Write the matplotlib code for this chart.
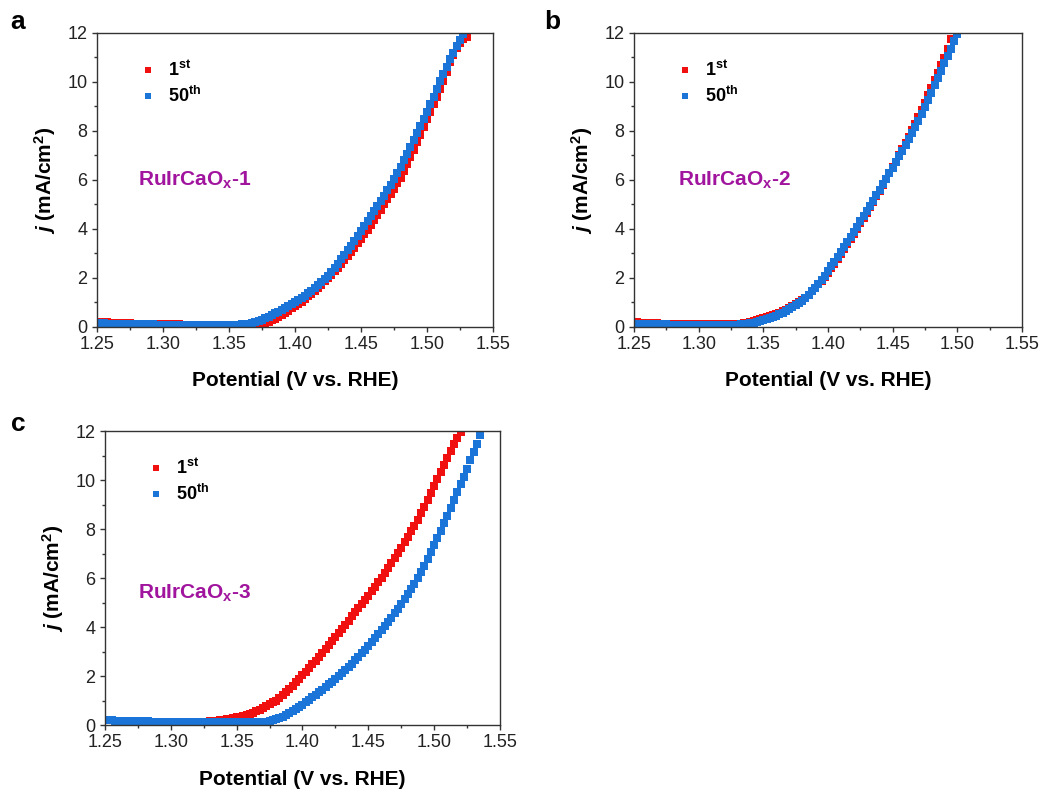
import numpy as np
import matplotlib
matplotlib.use("Agg")
import matplotlib.pyplot as plt
from matplotlib.ticker import MultipleLocator, FormatStrFormatter

plt.rcParams['font.family'] = ['Liberation Sans', 'DejaVu Sans']
plt.rcParams['mathtext.fontset'] = 'custom'
plt.rcParams['mathtext.rm'] = 'Liberation Sans'
plt.rcParams['mathtext.it'] = 'Liberation Sans:italic'
plt.rcParams['mathtext.bf'] = 'Liberation Sans:bold'
plt.rcParams['mathtext.bfit'] = 'Liberation Sans:italic:bold'

# LSV sampling (V vs. RHE)
V_START = 1.25
V_STEP = 0.0025

# current density (mA/cm2), one value per potential step
j_a_1st = [
    0.22, 0.21, 0.20, 0.19, 0.18, 0.17, 0.17, 0.16, 0.16, 0.15,
    0.15, 0.14, 0.14, 0.14, 0.13, 0.13, 0.13, 0.12, 0.12, 0.12,
    0.12, 0.11, 0.11, 0.11, 0.11, 0.11, 0.10, 0.10, 0.10, 0.10,
    0.10, 0.10, 0.10, 0.10, 0.10, 0.10,
    0.10, 0.10, 0.09, 0.09, 0.08, 0.08, 0.07, 0.07, 0.06, 0.06,
    0.05, 0.05, 0.05, 0.06, 0.08, 0.13, 0.20, 0.27, 0.34, 0.42,
    0.50, 0.58, 0.67, 0.76, 0.85, 0.94, 1.03, 1.13, 1.25, 1.36,
    1.48, 1.60, 1.73, 1.86, 1.99, 2.13, 2.27, 2.42, 2.57, 2.73,
    2.89, 3.06, 3.23, 3.41, 3.59, 3.78, 3.97, 4.17, 4.37, 4.58,
    4.79, 5.00, 5.21, 5.43, 5.65, 5.87, 6.10, 6.38, 6.66, 6.95,
    7.24, 7.54, 7.85, 8.16, 8.47, 8.78, 9.09, 9.40, 9.71, 10.02,
    10.40, 10.80, 11.10, 11.40, 11.60, 11.75, 11.85]
j_a_50th = [
    0.16, 0.15, 0.15, 0.14, 0.14, 0.13, 0.13, 0.13, 0.12, 0.12,
    0.12, 0.12, 0.11, 0.11, 0.11, 0.11, 0.11, 0.11, 0.10, 0.10,
    0.10, 0.10, 0.10, 0.10, 0.10, 0.10, 0.10, 0.10, 0.10, 0.10,
    0.10, 0.10, 0.10, 0.10, 0.10, 0.10,
    0.10, 0.10, 0.10, 0.10, 0.10, 0.10, 0.10, 0.10, 0.11, 0.12,
    0.14, 0.17, 0.20, 0.25, 0.30, 0.36, 0.42, 0.49, 0.56, 0.63,
    0.70, 0.78, 0.85, 0.93, 1.00, 1.09, 1.18, 1.28, 1.38, 1.48,
    1.59, 1.70, 1.82, 1.96, 2.10, 2.26, 2.42, 2.59, 2.77, 2.95,
    3.13, 3.32, 3.51, 3.71, 3.91, 4.11, 4.31, 4.51, 4.72, 4.93,
    5.14, 5.36, 5.58, 5.80, 6.03, 6.28, 6.54, 6.80, 7.07, 7.34,
    7.62, 7.90, 8.19, 8.49, 8.79, 9.09, 9.40, 9.71, 10.02, 10.32,
    10.62, 10.92, 11.20, 11.47, 11.72, 11.95]

j_b_1st = [
    0.20, 0.19, 0.18, 0.17, 0.16, 0.16, 0.15, 0.15, 0.14, 0.14,
    0.14, 0.13, 0.13, 0.13, 0.13, 0.12, 0.12, 0.12, 0.12, 0.12,
    0.12, 0.12, 0.12, 0.12, 0.12, 0.12, 0.12, 0.12, 0.12, 0.12,
    0.12, 0.12,
    0.12, 0.14, 0.16, 0.18, 0.21, 0.24, 0.27, 0.31, 0.35, 0.39,
    0.43, 0.48, 0.53, 0.58, 0.64, 0.70, 0.77, 0.84, 0.92, 1.00,
    1.09, 1.20, 1.32, 1.45, 1.59, 1.74, 1.89, 2.05, 2.22, 2.40,
    2.59, 2.78, 2.98, 3.18, 3.38, 3.59, 3.80, 4.01, 4.23, 4.45,
    4.67, 4.89, 5.11, 5.34, 5.57, 5.80, 6.03, 6.27, 6.51, 6.75,
    7.00, 7.25, 7.50, 7.76, 8.02, 8.29, 8.57, 8.86, 9.15, 9.45,
    9.76, 10.07, 10.38, 10.70, 10.98, 11.35, 11.75]
j_b_50th = [
    0.14, 0.14, 0.13, 0.13, 0.12, 0.12, 0.12, 0.11, 0.11, 0.11,
    0.11, 0.10, 0.10, 0.10, 0.10, 0.10, 0.10, 0.10, 0.10, 0.10,
    0.10, 0.10, 0.10, 0.10, 0.10, 0.10, 0.10, 0.10, 0.10, 0.10,
    0.10, 0.10,
    0.10, 0.11, 0.12, 0.13, 0.15, 0.17, 0.20, 0.24, 0.28, 0.32,
    0.36, 0.41, 0.46, 0.51, 0.58, 0.65, 0.72, 0.80, 0.88, 0.96,
    1.05, 1.18, 1.32, 1.46, 1.61, 1.76, 1.92, 2.10, 2.29, 2.48,
    2.67, 2.87, 3.07, 3.27, 3.47, 3.68, 3.89, 4.10, 4.31, 4.52,
    4.73, 4.94, 5.16, 5.38, 5.60, 5.82, 6.04, 6.27, 6.50, 6.73,
    6.96, 7.19, 7.42, 7.66, 7.90, 8.15, 8.42, 8.70, 8.98, 9.27,
    9.56, 9.86, 10.16, 10.46, 10.76, 11.06, 11.36, 11.66, 11.95]

j_c_1st = [
    0.20, 0.19, 0.19, 0.18, 0.18, 0.17, 0.17, 0.16, 0.16, 0.15,
    0.15, 0.15, 0.14, 0.14, 0.14, 0.14, 0.13, 0.13, 0.13, 0.13,
    0.13, 0.12, 0.12, 0.12, 0.12, 0.12, 0.12, 0.12,
    0.12, 0.12, 0.13, 0.14, 0.15, 0.16, 0.18, 0.20, 0.21, 0.23,
    0.25, 0.28, 0.31, 0.34, 0.37, 0.41, 0.45, 0.50, 0.56, 0.63,
    0.70, 0.77, 0.84, 0.92, 1.00, 1.11, 1.23, 1.35, 1.48, 1.61,
    1.75, 1.89, 2.03, 2.18, 2.33, 2.48, 2.63, 2.78, 2.94, 3.10,
    3.26, 3.42, 3.58, 3.75, 3.92, 4.09, 4.26, 4.43, 4.60, 4.77,
    4.94, 5.11, 5.28, 5.46, 5.64, 5.82, 6.00, 6.20, 6.40, 6.61,
    6.82, 7.03, 7.24, 7.46, 7.68, 7.90, 8.13, 8.38, 8.64, 8.91,
    9.19, 9.47, 9.76, 10.05, 10.34, 10.62, 10.90, 11.18, 11.46, 11.73,
    11.98]
j_c_50th = [
    0.20, 0.19, 0.19, 0.18, 0.18, 0.17, 0.17, 0.16, 0.16, 0.16,
    0.15, 0.15, 0.15, 0.15, 0.14, 0.14, 0.14, 0.14, 0.14, 0.13,
    0.13, 0.13, 0.13, 0.13, 0.13, 0.13, 0.12, 0.12, 0.12, 0.12,
    0.12, 0.12, 0.12, 0.12, 0.12, 0.12, 0.12, 0.12, 0.12, 0.12,
    0.12, 0.12, 0.12, 0.12,
    0.12, 0.12, 0.12, 0.12, 0.13, 0.14, 0.16, 0.19, 0.23, 0.28,
    0.34, 0.41, 0.49, 0.57, 0.65, 0.74, 0.83, 0.93, 1.03, 1.13,
    1.23, 1.33, 1.44, 1.55, 1.66, 1.77, 1.88, 2.00, 2.12, 2.25,
    2.38, 2.51, 2.65, 2.79, 2.93, 3.08, 3.23, 3.38, 3.54, 3.70,
    3.86, 4.03, 4.20, 4.38, 4.56, 4.75, 4.94, 5.14, 5.34, 5.55,
    5.77, 6.00, 6.25, 6.51, 6.78, 7.06, 7.34, 7.63, 7.93, 8.24,
    8.55, 8.86, 9.18, 9.50, 9.82, 10.14, 10.47, 10.80, 11.13, 11.46,
    11.85]

panel_letters = ["a", "b", "c"]
sample_names = [r"RuIrCaO$_\mathbf{x}$-1", r"RuIrCaO$_\mathbf{x}$-2", r"RuIrCaO$_\mathbf{x}$-3"]
cycle_labels = [r"$\mathbf{1^{st}}$", r"$\mathbf{50^{th}}$"]

RED = "#f01010"
BLUE = "#1b74d8"
PURPLE = "#a0149e"
GREY = "#333333"


def potential(j):
    return V_START + V_STEP * np.arange(len(j))


def style_axes(ax):
    ax.set_xlim(1.25, 1.55)
    ax.set_ylim(0, 12)
    ax.xaxis.set_major_locator(MultipleLocator(0.05))
    ax.xaxis.set_minor_locator(MultipleLocator(0.025))
    ax.yaxis.set_major_locator(MultipleLocator(2))
    ax.yaxis.set_minor_locator(MultipleLocator(1))
    ax.xaxis.set_major_formatter(FormatStrFormatter("%.2f"))
    ax.tick_params(which="both", direction="out", top=False, right=False,
                   color=GREY, labelcolor="#222222", width=1.0)
    ax.tick_params(which="major", length=3.8, labelsize=13, pad=3)
    ax.tick_params(which="minor", length=2.2)
    for sp in ax.spines.values():
        sp.set_color(GREY)
        sp.set_linewidth(1.0)
    ax.set_xlabel("Potential (V vs. RHE)", fontsize=15, fontweight="bold", labelpad=13)
    ax.set_ylabel(r"$\mathbfit{j}$ (mA/cm$^\mathbf{2}$)", fontsize=15, fontweight="bold", labelpad=7)


def plot_panel(fig, rect, j1, j50, letter, name, name_pos):
    ax = fig.add_axes(rect)
    ax.plot(potential(j1), j1, ls="none", marker="s", ms=5.2, mew=0, color=RED,
            label=cycle_labels[0])
    ax.plot(potential(j50), j50, ls="none", marker="s", ms=5.2, mew=0, color=BLUE,
            label=cycle_labels[1])
    style_axes(ax)
    ax.legend(loc="upper left", bbox_to_anchor=(0.075, 0.95), frameon=False,
              fontsize=13, handlelength=1.0, handletextpad=0.6, labelspacing=0.3,
              markerscale=0.75, borderpad=0.2)
    ax.text(name_pos[0], name_pos[1], name, transform=ax.transAxes, color=PURPLE,
            fontsize=15, fontweight="bold", va="center", ha="left")
    fig.text(letter[1], letter[2], letter[0], fontsize=19, fontweight="bold",
             ha="center", va="center")
    return ax


fig = plt.figure(figsize=(10.54, 7.89), dpi=100)

plot_panel(fig, [0.092, 0.5856, 0.3757, 0.3726], j_a_1st, j_a_50th,
           (panel_letters[0], 0.017, 0.972), sample_names[0], (0.104, 0.50))
plot_panel(fig, [0.6015, 0.5856, 0.3681, 0.3726], j_b_1st, j_b_50th,
           (panel_letters[1], 0.524, 0.972), sample_names[1], (0.113, 0.50))
plot_panel(fig, [0.0996, 0.0811, 0.3748, 0.3726], j_c_1st, j_c_50th,
           (panel_letters[2], 0.017, 0.463), sample_names[2], (0.084, 0.449))

fig.savefig("out.png", dpi=100)
